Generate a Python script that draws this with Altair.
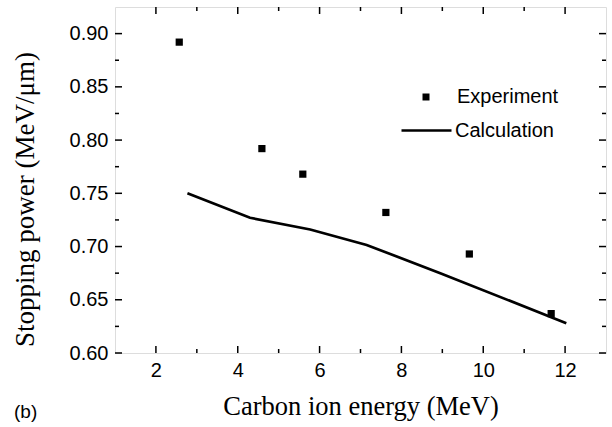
import altair as alt
import pandas as pd

# ---- data ----
exp_energy = [2.57, 4.59, 5.59, 7.62, 9.66, 11.66]
exp_power = [0.892, 0.792, 0.768, 0.732, 0.693, 0.637]

calc_energy = [2.77, 4.30, 5.77, 7.15, 8.95, 12.03]
calc_power = [0.750, 0.727, 0.716, 0.7015, 0.675, 0.628]

x_major = [2, 4, 6, 8, 10, 12]
x_minor = [3, 5, 7, 9, 11]
y_major = [0.60, 0.65, 0.70, 0.75, 0.80, 0.85, 0.90]
y_minor = [0.625, 0.675, 0.725, 0.775, 0.825, 0.875]

W, H = 491, 346
SANS = "Liberation Sans"
SERIF = "Liberation Serif"

xs = alt.Scale(domain=[1, 13], nice=False, zero=False)
ys = alt.Scale(domain=[0.6, 0.925], nice=False, zero=False)

exp_df = pd.DataFrame({"energy": exp_energy, "power": exp_power, "series": "Experiment"})
calc_df = pd.DataFrame({"energy": calc_energy, "power": calc_power, "series": "Calculation"})

points = alt.Chart(exp_df).mark_point(filled=True, color="black", opacity=1, size=52).encode(
    x=alt.X("energy:Q", scale=xs,
            axis=alt.Axis(values=x_major, title="Carbon ion energy (MeV)", ticks=False,
                          domain=False, grid=False, labelPadding=7, titlePadding=13,
                          labelFont=SANS, labelFontSize=20, labelColor="black",
                          labelFontWeight="normal",
                          titleFont=SERIF, titleFontSize=26.5, titleFontWeight="normal",
                          titleColor="black")),
    y=alt.Y("power:Q", scale=ys,
            axis=alt.Axis(values=y_major, format=".2f", title="Stopping power (MeV/μm)",
                          ticks=False, domain=False, grid=False, labelPadding=7,
                          titlePadding=30, titleY=192,
                          labelFont=SANS, labelFontSize=20, labelColor="black",
                          titleFont=SERIF, titleFontSize=27, titleFontWeight="normal",
                          titleColor="black")),
    shape=alt.Shape("series:N",
                    scale=alt.Scale(domain=["Experiment"], range=["square"]),
                    legend=alt.Legend(
                        title=None, orient="none", legendX=301, legendY=80,
                        labelFont=SANS, labelFontSize=20, labelColor="black",
                        symbolSize=49, symbolFillColor="black", symbolStrokeWidth=0,
                        symbolOpacity=1, labelOffset=21, padding=0)),
)

line = alt.Chart(calc_df).mark_line(strokeWidth=2.7).encode(
    x=alt.X("energy:Q", scale=xs),
    y=alt.Y("power:Q", scale=ys),
    color=alt.Color("series:N",
                    scale=alt.Scale(domain=["Calculation"], range=["black"]),
                    legend=alt.Legend(
                        title=None, orient="none", legendX=285, legendY=97,
                        labelFont=SANS, labelFontSize=20, labelColor="black",
                        symbolType="stroke", symbolSize=2500, symbolStrokeWidth=2.5,
                        symbolStrokeColor="black", labelOffset=2, padding=0)),
)


def x_ticks(vals, length, top):
    df = pd.DataFrame({"v": vals})
    if top:
        yv, y2v = alt.value(0), alt.value(length)
    else:
        yv, y2v = alt.value(H), alt.value(H - length)
    return alt.Chart(df).mark_rule(color="black", strokeWidth=1.5).encode(
        x=alt.X("v:Q", scale=xs), y=yv, y2=y2v)


def y_ticks(vals, length, right):
    df = pd.DataFrame({"v": vals})
    if right:
        xv, x2v = alt.value(W), alt.value(W - length)
    else:
        xv, x2v = alt.value(0), alt.value(length)
    return alt.Chart(df).mark_rule(color="black", strokeWidth=1.5).encode(
        y=alt.Y("v:Q", scale=ys), x=xv, x2=x2v)


ticks = [
    x_ticks(x_major, 7, False), x_ticks(x_minor, 4, False),
    x_ticks(x_major, 7, True), x_ticks(x_minor, 4, True),
    y_ticks(y_major, 7, False), y_ticks(y_minor, 4, False),
    y_ticks(y_major, 7, True), y_ticks(y_minor, 4, True),
]

panel_label = alt.Chart(pd.DataFrame({"t": ["(b)"]})).mark_text(
    font=SANS, fontSize=19, color="black", align="left", baseline="middle"
).encode(x=alt.value(-101), y=alt.value(405), text="t:N")

chart = alt.layer(line, points, *ticks, panel_label).resolve_legend(
    shape="independent", color="independent"
).properties(
    width=W, height=H,
    padding={"left": 115, "top": 7, "right": 6, "bottom": 74},
    autosize=alt.AutoSizeParams(type="none"),
).configure_view(stroke="black", strokeWidth=2).configure(background="white")

chart.save("out.html", embed_options={"renderer": "svg", "actions": False})
